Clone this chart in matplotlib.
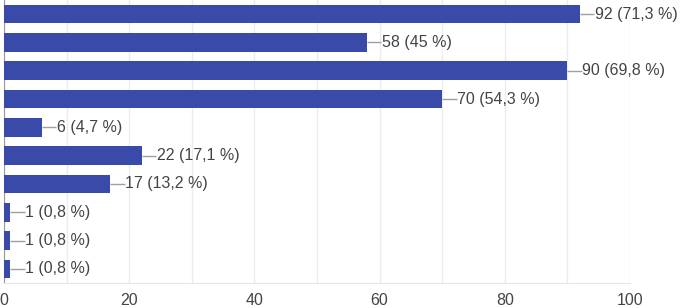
import numpy as np
import matplotlib.pyplot as plt

counts = [92, 58, 90, 70, 6, 22, 17, 1, 1, 1]
percents = ["71,3", "45", "69,8", "54,3", "4,7", "17,1", "13,2", "0,8", "0,8", "0,8"]
xticks = [0, 20, 40, 60, 80, 100]

plt.rcParams['font.family'] = ['Liberation Sans', 'DejaVu Sans']

fig = plt.figure(figsize=(6.81, 3.08), dpi=100)
ax = fig.add_axes([0.006, 0.081, 0.919, 0.919])

y = np.arange(len(counts))
ax.barh(y, counts, height=0.66, color='#3a4aa8', zorder=3)

for i, (c, p) in enumerate(zip(counts, percents)):
    ax.plot([c, c + 2.3], [i, i], color='#a0a0a0', lw=1, zorder=3, solid_capstyle='butt')
    ax.text(c + 2.4, i, f"{c} ({p} %)", va='center', ha='left',
            fontsize=11.5, color='#444444', zorder=4)

ax.set_xlim(0, 100)
ax.set_ylim(len(counts) - 0.5, -0.5)
ax.set_xticks(xticks)
ax.set_xticks(np.arange(0, 101, 10), minor=True)
ax.set_yticks([])
ax.grid(axis='x', which='both', color='#ececec', lw=1, zorder=0)
ax.tick_params(axis='x', which='both', length=0, labelsize=11.5, colors='#444444', pad=7)

for s in ['top', 'right']:
    ax.spines[s].set_visible(False)
ax.spines['bottom'].set_color('#e6e6e6')
ax.spines['left'].set_color('#999999')

fig.savefig('out.png', dpi=100)
